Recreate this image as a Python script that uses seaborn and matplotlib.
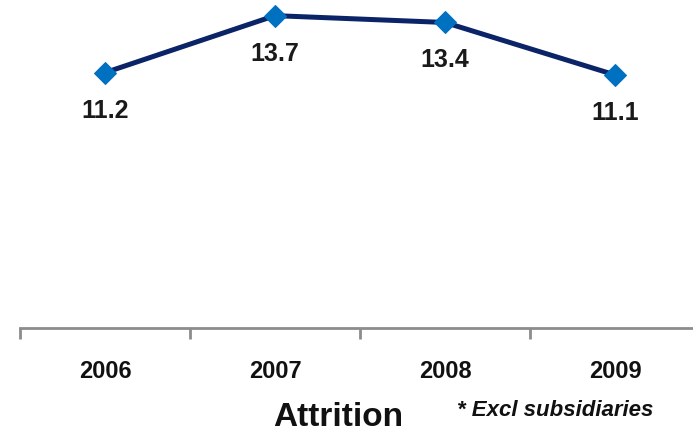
import matplotlib
matplotlib.use("Agg")
import matplotlib.pyplot as plt
from matplotlib.ticker import FixedLocator
import seaborn as sns
import pandas as pd

years = ["2006", "2007", "2008", "2009"]
attrition = [11.2, 13.7, 13.4, 11.1]
value_labels = ["11.2", "13.7", "13.4", "11.1"]
title = "Attrition"
footnote = "* Excl subsidiaries"

sns.set_theme(style="white")
plt.rcParams["font.family"] = ["Liberation Sans Narrow", "Liberation Sans", "DejaVu Sans"]

df = pd.DataFrame({"year": years, "attrition": attrition})

fig = plt.figure(figsize=(6.93, 4.35), dpi=100)
# axes spans slightly past the right edge, as the category band does
ax = fig.add_axes([20 / 693, (435 - 329) / 435, 680 / 693, 329 / 435])

sns.lineplot(data=df, x="year", y="attrition", ax=ax, color="#0b2467",
             linewidth=3.6, marker="D", markersize=11,
             markerfacecolor="#0070c0", markeredgecolor="#0070c0", sort=False)

ax.set_xlim(-0.5, 3.5)
ax.set_ylim(0, 329 / 22.8)

for i, (v, lab) in enumerate(zip(attrition, value_labels)):
    ax.annotate(lab, (i, v), xytext=(0, -37), textcoords="offset pixels",
                ha="center", va="center", fontsize=18, fontweight="bold",
                color="#1a1a1a", annotation_clip=False)

for side in ["top", "right", "left"]:
    ax.spines[side].set_visible(False)
ax.spines["bottom"].set_color("#8c8c8c")
ax.spines["bottom"].set_linewidth(2)

ax.set_yticks([])
ax.set_xticks(range(len(years)))
ax.set_xticklabels(years, fontsize=17, fontweight="bold", color="#111111")
ax.xaxis.set_minor_locator(FixedLocator([i - 0.5 for i in range(len(years) + 1)]))
ax.tick_params(axis="x", which="major", length=0, pad=22)
ax.tick_params(axis="x", which="minor", length=8, width=2, color="#8c8c8c",
               direction="out", bottom=True)
ax.set_xlabel("")
ax.set_ylabel("")

fig.text(338 / 693, 1 - 418 / 435, title, ha="center", va="center",
         fontsize=24, fontweight="bold", color="#111111")
fig.text(555 / 693, 1 - 411 / 435, footnote, ha="center", va="center",
         fontsize=16, fontweight="bold", fontstyle="italic", color="#111111")

fig.savefig("out.png", dpi=100)
